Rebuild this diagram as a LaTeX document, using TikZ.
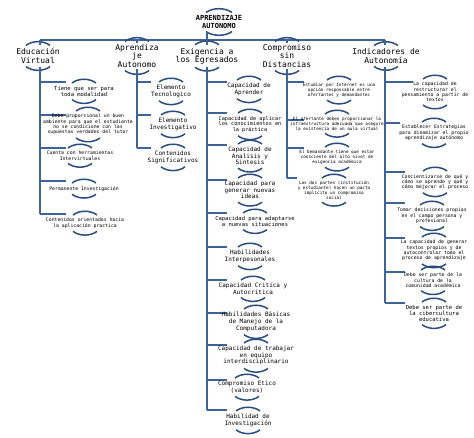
\documentclass[tikz,border=0pt]{standalone}
\usepackage{fontspec}
\setmainfont{DejaVu Sans Mono}
\definecolor{lnc}{HTML}{3E6496}
\definecolor{arcc}{HTML}{2B4C7E}
\newcommand{\brk}[2][12]{%
  \draw[arcst] ([xshift=-#1pt,yshift=3pt]#2.north) .. controls ([xshift=-0.45*#1pt,yshift=8pt]#2.north) and ([xshift=0.45*#1pt,yshift=8pt]#2.north) .. ([xshift=#1pt,yshift=3pt]#2.north);
  \draw[arcst] ([xshift=-#1pt,yshift=-3pt]#2.south) .. controls ([xshift=-0.45*#1pt,yshift=-8pt]#2.south) and ([xshift=0.45*#1pt,yshift=-8pt]#2.south) .. ([xshift=#1pt,yshift=-3pt]#2.south);
}
% name, spine x, branch y, branch end x, text anchor (x,y), font style, text
\newcommand{\leaf}[7]{%
  \coordinate (#1s) at (#2,#3);
  \coordinate (#1e) at (#4,#3);
  \draw[ln] (#1s) -- (#1e);
  \node[leaf,#6,anchor=north] (#1) at (#5) {#7};
  \brk{#1}
}
\begin{document}
\begin{tikzpicture}[x=1pt,y=-1pt,
  ln/.style={draw=lnc,line width=2.2pt},
  arcst/.style={draw=arcc,line width=1.5pt},
  top/.style={align=center,font=\fontsize{8}{8.3}\selectfont,inner sep=0pt},
  leaf/.style={align=center,inner sep=0pt},
  fa/.style={font=\fontsize{4.8}{5.3}\selectfont},
  fb/.style={font=\fontsize{6}{6.6}\selectfont},
  fc/.style={font=\fontsize{4.3}{4.8}\selectfont},
  fd/.style={font=\fontsize{5.5}{6}\selectfont},
  fe/.style={font=\fontsize{5.2}{5.7}\selectfont},
]
\useasboundingbox (0,0) rectangle (474,438);
\fill[white] (0,0) rectangle (474,438);

% title
\node[top,font=\bfseries\fontsize{7}{7.5}\selectfont] (title) at (219,22) {APRENDIZAJE\\AUTONOMO};
\brk[13]{title}
\coordinate (tb) at (207,32);
\coordinate (hl) at (40,40);
\coordinate (hm) at (207,40);
\coordinate (hr) at (385,40);
\draw[ln] (tb) -- (hm);
\draw[ln] (hl) -- (hr);

% top level nodes
\node[top] (ev) at (38,56) {Educación\\Virtual};
\node[top] (aa) at (137,56) {Aprendiza\\je\\Autonomo};
\node[top] (ex) at (207,56) {Exigencia a\\los Egresados};
\node[top] (cd) at (287,56) {Compromiso\\sin\\Distancias};
\node[top] (ia) at (386,56) {Indicadores de\\Autonomía};
\foreach \n in {ev,aa,ex,cd,ia}{\brk{\n}}

\coordinate (evt) at (40,40);  \coordinate (eva) at (40,45);
\coordinate (aat) at (137,40); \coordinate (aaa) at (137,43);
\coordinate (ext) at (207,40); \coordinate (exa) at (207,45);
\coordinate (cdt) at (287,40); \coordinate (cda) at (287,43);
\coordinate (iat) at (385,40); \coordinate (iaa) at (385,45);
\draw[ln] (evt) -- (eva);
\draw[ln] (aat) -- (aaa);
\draw[ln] (ext) -- (exa);
\draw[ln] (cdt) -- (cda);
\draw[ln] (iat) -- (iaa);

% Educacion Virtual
\leaf{ev1}{40}{82}{66}{84,86}{fd}{Tiene que ser para\\toda modalidad}
\leaf{ev2}{40}{115}{66}{88,114}{fa}{Debe proporcional un buen\\ambiente para que el estudiante\\no se condicione con las\\supuestas verdades del tutor}
\leaf{ev3}{40}{148}{66}{80,151}{fa}{Cuenta con herramientas\\Intervirtuales}
\leaf{ev4}{40}{181}{66}{84,186}{fa}{Permanente Investigación}
\leaf{ev5}{40}{214}{66}{85,218}{fa}{Contenidos orientados hacia\\la aplicación practica}
\coordinate (evb) at (40,67);
\draw[ln] (evb) -- (ev5s);

% Aprendizaje Autonomo
\leaf{aa1}{137}{82}{151}{171,85}{fb}{Elemento\\Tecnologico}
\leaf{aa2}{137}{115}{151}{173,118}{fb}{Elemento\\Investigativo}
\leaf{aa3}{137}{148}{151}{173,151}{fb}{Contenidos\\Significativos}
\coordinate (aab) at (137,69);
\draw[ln] (aab) -- (aa3s);

% Exigencia a los Egresados
\leaf{ex1}{207}{82}{227}{249,83}{fb}{Capacidad de\\Aprender}
\leaf{ex2}{207}{113}{227}{250,116}{fe}{Capacidad de aplicar\\los conocimientos en\\la práctica}
\leaf{ex3}{207}{145}{227}{250,147}{fb}{Capacidad de\\Analisis y\\Sintesis}
\leaf{ex4}{207}{180}{227}{250,181}{fb}{Capacidad para\\generar nuevas\\ideas}
\leaf{ex5}{207}{213}{227}{255,216}{fd}{Capacidad para adaptarse\\a nuevas situaciones}
\leaf{ex6}{207}{247}{227}{250,250}{fb}{Habilidades\\Interpesonales}
\leaf{ex7}{207}{280}{227}{253,283}{fb}{Capacidad Critica y\\Autocritica}
\leaf{ex8}{207}{313}{227}{256,312}{fb}{Habilidades Básicas\\de Manejo de la\\Computadora}
\leaf{ex9}{207}{345}{227}{256,346}{fb}{Capacidad de trabajar\\en equipo\\interdisciplinario}
\leaf{ex10}{207}{380}{227}{247,381}{fb}{Compromiso Etico\\(valores)}
\leaf{ex11}{207}{410}{227}{248,414}{fb}{Habilidad de\\Investigación}
\coordinate (exb) at (207,67);
\draw[ln] (exb) -- (ex11s);

% Compromiso sin Distancias
\leaf{cd1}{287}{82}{304}{339,83}{fc}{Estudiar por Internet es una\\opción responsable entre\\ofertantes y demandantes}
\leaf{cd2}{287}{120}{304}{337,117}{fc}{El ofertante deben proporcionar la\\infraestructura adecuada que asegure\\la existencia de un aula virtual}
\leaf{cd3}{287}{148}{304}{337,150}{fc}{El Demandante tiene que estar\\consciente del alto nivel de\\exigencia académica}
\leaf{cd4}{287}{178}{297}{334,181}{fc}{Las dos partes (institución\\y estudiante) hacen un pacto\\implícito un compromiso\\social}
\coordinate (cdb) at (287,69);
\draw[ln] (cdb) -- (cd4s);

% Indicadores de Autonomia
\leaf{ia1}{385}{82}{413}{435,82}{fa}{La capacidad de\\restructurar el\\pensamiento a partir de\\textos}
\leaf{ia2}{385}{123}{400}{434,125}{fa}{Establecer Estrategias\\para dinamizar el propio\\aprendizaje autónomo}
\leaf{ia3}{385}{172}{405}{435,174}{fa}{Concientizarse de qué y\\cómo se aprende y qué y\\cómo mejorar el proceso}
\leaf{ia4}{385}{203}{405}{432,208}{fa}{Tomar decisiones propias\\en el campo persona y\\profesional}
\leaf{ia5}{385}{238}{405}{434,240}{fa}{La capacidad de generar\\textos propios y de\\autocontrolar todo el\\proceso de aprendizaje}
\leaf{ia6}{385}{272}{405}{433,273}{fa}{Debe ser parte de la\\cultura de la\\comunidad académica}
\leaf{ia7}{385}{303}{405}{434,305}{fd}{Debe ser  parte de\\la cibercultura\\educativa}
\coordinate (iab) at (385,67);
\draw[ln] (iab) -- (ia7s);
\end{tikzpicture}
\end{document}
